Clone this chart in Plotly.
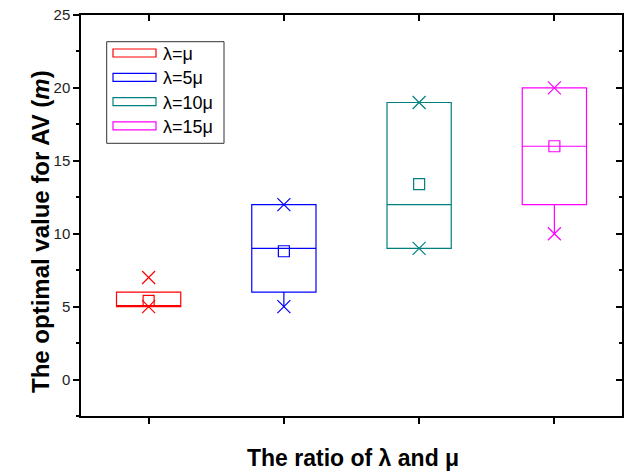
import plotly.graph_objects as go

# ---- data ----
labels = ["λ=μ", "λ=5μ", "λ=10μ", "λ=15μ"]
positions = [1, 2, 3, 4]
colors = ["#FF0000", "#0000FF", "#008080", "#FF00FF"]
q1 = [5, 6, 9, 12]
median = [5, 9, 12, 16]
q3 = [6, 12, 19, 20]
lowerfence = [5, 5, 9, 10]
upperfence = [6, 12, 19, 20]
means = [5.4, 8.8, 13.4, 16]
x_min = [5, 5, 9, 10]
x_max = [7, 12, 19, 20]

FONT = "Liberation Sans, Arial, sans-serif"
L, R, T, B = 81, 3, 15, 56
PW, PH = 625 - L - R, 472 - T - B

fig = go.Figure()
for i in range(len(labels)):
    fig.add_trace(go.Box(
        x=[positions[i]], q1=[q1[i]], median=[median[i]], q3=[q3[i]],
        lowerfence=[lowerfence[i]], upperfence=[upperfence[i]],
        width=0.475, whiskerwidth=0, fillcolor="rgba(0,0,0,0)",
        line=dict(color=colors[i], width=1.2), boxpoints=False,
        name=labels[i], showlegend=False, hoverinfo="skip"))
    fig.add_trace(go.Scatter(
        x=[positions[i]], y=[means[i]], mode="markers",
        marker=dict(symbol="square-open", size=11, color=colors[i], line=dict(width=1.2)),
        showlegend=False))
    fig.add_trace(go.Scatter(
        x=[positions[i], positions[i]], y=[x_min[i], x_max[i]], mode="markers",
        marker=dict(symbol="x-thin-open", size=13, color=colors[i], line=dict(width=1.2, color=colors[i])),
        showlegend=False))

# invisible trace to activate mirror axes
fig.add_trace(go.Scatter(x=[positions[0]], y=[means[0]], xaxis="x2", yaxis="y2",
                         mode="markers", marker=dict(opacity=0), showlegend=False, hoverinfo="skip"))

def px_x(p):
    return (p - L) / PW

def px_y(p):
    return 1 - (p - T) / PH

# manual legend (paper coordinates)
shapes = [dict(type="rect", xref="paper", yref="paper",
               x0=px_x(106.7), x1=px_x(224), y0=px_y(143.3), y1=px_y(41.7),
               line=dict(color="#333333", width=1), fillcolor="white", layer="above")]
annotations = []
for i, lab in enumerate(labels):
    yc = 53 + 24.3 * i
    shapes.append(dict(type="rect", xref="paper", yref="paper",
                       x0=px_x(113), x1=px_x(156), y0=px_y(yc + 4), y1=px_y(yc - 4),
                       line=dict(color=colors[i], width=1.2), fillcolor="rgba(0,0,0,0)", layer="above"))
    annotations.append(dict(xref="paper", yref="paper", x=px_x(161), y=px_y(yc + 1),
                            text=lab, showarrow=False, xanchor="left", yanchor="middle",
                            font=dict(family=FONT, size=18, color="black")))

annotations.append(dict(xref="paper", yref="paper", x=px_x(353), y=px_y(458),
                        text="<b>The ratio of λ and μ</b>", showarrow=False,
                        xanchor="center", yanchor="middle",
                        font=dict(family=FONT, size=23, color="black")))
annotations.append(dict(xref="paper", yref="paper", x=px_x(40), y=px_y(232),
                        text="<b>The optimal value for AV (<i>m</i>)</b>", showarrow=False,
                        textangle=-90, xanchor="center", yanchor="middle",
                        font=dict(family=FONT, size=24, color="black")))

fig.update_layout(
    width=625, height=472,
    margin=dict(l=L, r=R, t=T, b=B),
    plot_bgcolor="white", paper_bgcolor="white",
    font=dict(family=FONT, size=15, color="black"),
    showlegend=False,
    shapes=shapes, annotations=annotations,
    xaxis=dict(range=[0.5, 4.5], tickvals=positions, ticktext=["", "", "", ""], automargin=False,
               ticks="outside", ticklen=6, tickwidth=1.5, tickcolor="black",
               showline=True, linecolor="black", linewidth=1.5, showgrid=False, zeroline=False),
    xaxis2=dict(range=[0.5, 4.5], overlaying="x", side="top", tickvals=positions, automargin=False,
                showticklabels=False, ticks="inside", ticklen=6, tickwidth=1.5, tickcolor="black",
                showline=True, linecolor="black", linewidth=1.5, showgrid=False, zeroline=False),
    yaxis=dict(range=[-2.5, 25], tick0=0, dtick=5, ticks="outside", ticklen=6, tickwidth=1.5,
               tickcolor="black", showline=True, linecolor="black", linewidth=1.5, automargin=False,
               showgrid=False, zeroline=False, tickfont=dict(size=15, color="#222222"),
               minor=dict(dtick=2.5, tick0=0, ticks="outside", ticklen=3, tickwidth=1.5, tickcolor="black")),
    yaxis2=dict(range=[-2.5, 25], overlaying="y", side="right", tick0=0, dtick=5, automargin=False,
                showticklabels=False, ticks="inside", ticklen=6, tickwidth=1.5, tickcolor="black",
                showline=True, linecolor="black", linewidth=1.5, showgrid=False, zeroline=False,
                minor=dict(dtick=2.5, tick0=0, ticks="inside", ticklen=3, tickwidth=1.5, tickcolor="black")),
)

fig.write_html("out.html", config={"displayModeBar": False},
               post_script="document.body.style.margin='0';document.body.style.overflow='hidden';")
